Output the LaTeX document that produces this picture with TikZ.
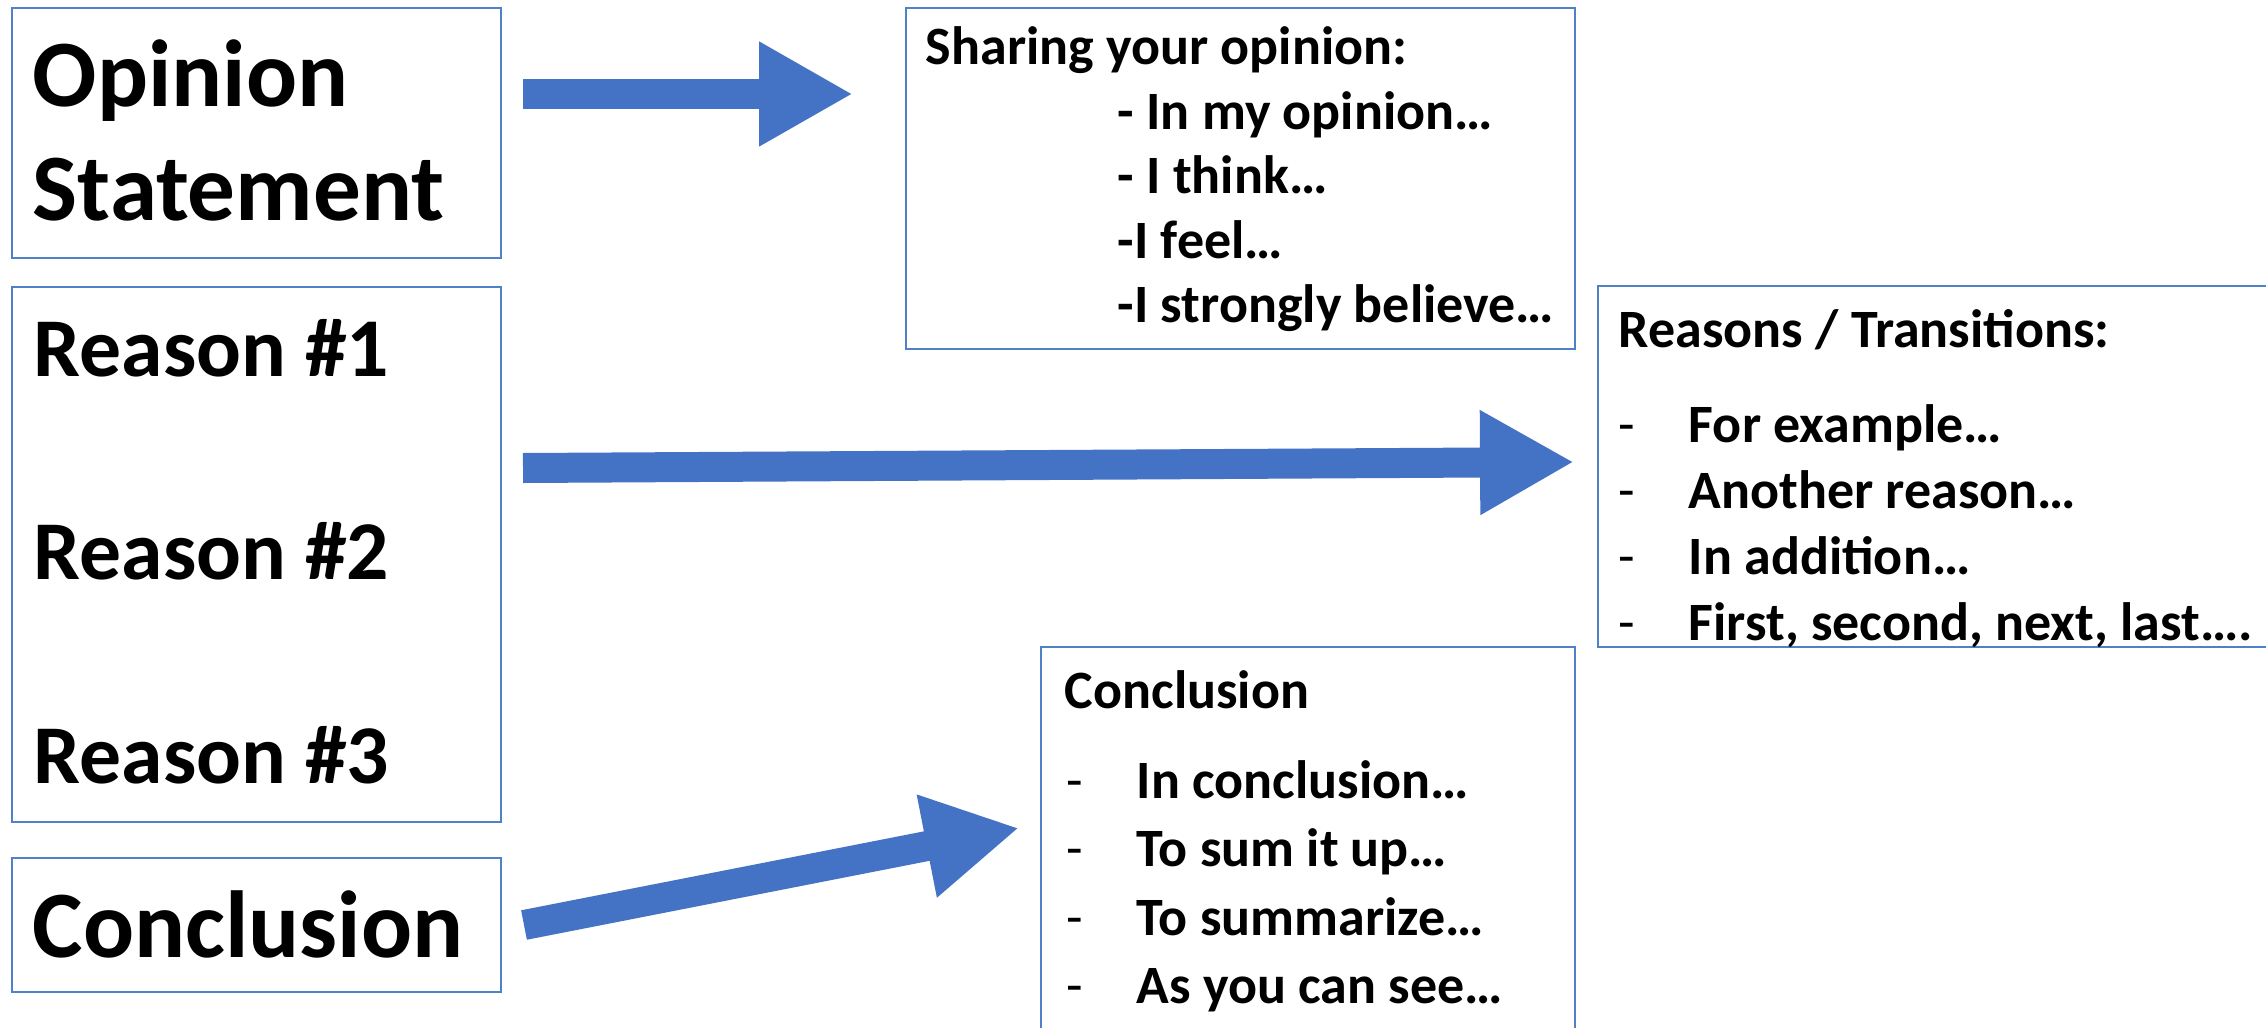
\documentclass[tikz,border=0pt]{standalone}
\usepackage{fontspec}
\setmainfont{Carlito}
\usetikzlibrary{arrows.meta}
\definecolor{arrowblue}{HTML}{4472C4}
\definecolor{boxblue}{HTML}{4F81C7}
\newcommand{\pxu}{0.25pt}
\newcommand{\itemdash}{\makebox[17.5pt][l]{\mdseries -}}

\begin{document}
\begin{tikzpicture}[x=0.25pt, y=-0.25pt,
	box/.style={draw=boxblue, line width=0.45pt, anchor=north west, inner sep=0pt},
	big/.style={anchor=base west, inner sep=0pt, font=\bfseries\fontsize{23.8}{28}\selectfont},
	mid/.style={anchor=base west, inner sep=0pt, font=\bfseries\fontsize{20.9}{25}\selectfont},
	small/.style={anchor=base west, inner sep=0pt, font=\bfseries\fontsize{13.5}{16}\selectfont},
	blockarrow/.style={draw=arrowblue, line width=7.5pt, -{Triangle[length=23.5pt, width=24.5pt]}}]
	\path[use as bounding box, clip] (0,0) rectangle (2266,1027);
	
	% left column
	\node[box, minimum width=489*\pxu, minimum height=250*\pxu] (opbox) at (11,7) {};
	\node[box, minimum width=489*\pxu, minimum height=535*\pxu] (rsbox) at (11,286) {};
	\node[box, minimum width=489*\pxu, minimum height=134*\pxu] (cnbox) at (11,857) {};
	\node[big] (op1) at (32,107) {Opinion};
	\node[big] (op2) at (32,221) {Statement};
	\node[mid] (rs1) at (33,376) {Reason \#1};
	\node[mid] (rs2) at (33,579) {Reason \#2};
	\node[mid] (rs3) at (33,783) {Reason \#3};
	\node[big] (cn) at (32,957) {Conclusion};
	
	% sharing your opinion
	\node[box, minimum width=669*\pxu, minimum height=341*\pxu] (shbox) at (905,7) {};
	\node[small] (shtitle) at (925,65) {Sharing your opinion:};
	\foreach \t [count=\i] in {- In my opinion…, - I think…, -I feel…, -I strongly believe…}
		\node[small] (sh\i) at (1117,{130+(\i-1)*64}) {\t};
	
	% reasons / transitions
	\node[box, minimum width=690*\pxu, minimum height=361*\pxu] (trbox) at (1597,285) {};
	\node[small] (trtitle) at (1618,347) {Reasons / Transitions:};
	\foreach \t [count=\i] in {For example…, Another reason…, In addition…, {First, second, next, last….}}
		\node[small] (tr\i) at (1618,{442+(\i-1)*66}) {\itemdash\t};
	
	% conclusion
	\node[box, minimum width=534*\pxu, minimum height=400*\pxu] (ccbox) at (1040,646) {};
	\node[small] (cctitle) at (1064,708) {Conclusion};
	\foreach \t [count=\i] in {In conclusion…, To sum it up…, To summarize…, As you can see…}
		\node[small] (cc\i) at (1066,{798+(\i-1)*68.6}) {\itemdash\t};
	
	% arrows
	\coordinate (a1s) at (523,94);
	\coordinate (a1e) at (853,94);
	\coordinate (a2s) at (523,468);
	\coordinate (a2e) at (1574,462);
	\coordinate (a3s) at (524,925);
	\coordinate (a3e) at (1019,828);
	\draw[blockarrow] (a1s) -- (a1e);
	\draw[blockarrow] (a2s) -- (a2e);
	\draw[blockarrow] (a3s) -- (a3e);
\end{tikzpicture}
\end{document}
